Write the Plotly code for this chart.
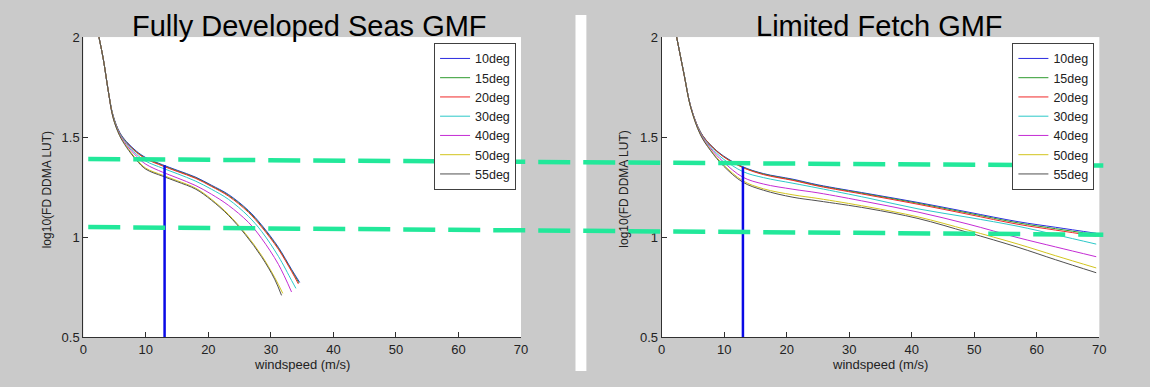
import plotly.graph_objects as go

# ---------------- data ----------------
series_names = ["10deg", "15deg", "20deg", "30deg", "40deg", "50deg", "55deg"]
series_colors = ["#2B2BE0", "#2E9A2E", "#F02828", "#2CC8C8", "#C42CD4", "#D2C41E", "#505050"]

# Fully Developed Seas GMF (left)
fd_x_10 = [2.5, 3.2, 4.0, 4.75, 5.8, 6.9, 8.5, 10.0, 12.7, 15.0, 18.0, 20.5, 23.2, 26.4, 28.5, 31.2, 33.3, 34.6]
fd_y_10 = [2.0, 1.89, 1.73, 1.61, 1.525, 1.478, 1.43, 1.398, 1.362, 1.335, 1.30, 1.26, 1.214, 1.134, 1.062, 0.95, 0.84, 0.775]
fd_x_15 = [2.5, 3.2, 4.0, 4.75, 5.8, 6.9, 8.5, 10.0, 12.7, 15.0, 18.0, 20.5, 23.2, 26.4, 28.5, 31.2, 33.3, 34.5]
fd_y_15 = [2.0, 1.89, 1.73, 1.608, 1.523, 1.475, 1.427, 1.395, 1.359, 1.332, 1.297, 1.257, 1.21, 1.13, 1.057, 0.945, 0.835, 0.772]
fd_x_20 = [2.5, 3.2, 4.0, 4.75, 5.8, 6.9, 8.5, 10.0, 12.7, 15.0, 18.0, 20.5, 23.2, 26.4, 28.5, 31.2, 33.3, 34.4]
fd_y_20 = [2.0, 1.89, 1.73, 1.607, 1.522, 1.473, 1.424, 1.392, 1.356, 1.329, 1.294, 1.254, 1.206, 1.125, 1.052, 0.94, 0.83, 0.767]
fd_x_30 = [2.5, 3.2, 4.0, 4.75, 5.8, 6.9, 8.5, 10.0, 12.7, 15.0, 18.0, 20.5, 23.2, 26.4, 28.5, 31.2, 33.3, 34.0]
fd_y_30 = [2.0, 1.89, 1.73, 1.605, 1.52, 1.47, 1.415, 1.38, 1.345, 1.318, 1.28, 1.24, 1.19, 1.105, 1.03, 0.905, 0.785, 0.745]
fd_x_40 = [2.5, 3.2, 4.0, 4.75, 5.8, 6.9, 8.5, 10.0, 12.7, 15.0, 18.0, 20.5, 23.2, 26.4, 28.5, 31.2, 33.3]
fd_y_40 = [2.0, 1.89, 1.73, 1.60, 1.515, 1.462, 1.405, 1.365, 1.325, 1.297, 1.258, 1.215, 1.16, 1.075, 0.995, 0.865, 0.727]
fd_x_50 = [2.5, 3.2, 4.0, 4.75, 5.8, 6.9, 8.5, 10.0, 12.7, 15.0, 18.0, 20.5, 23.2, 25.9, 28.5, 30.6, 31.9]
fd_y_50 = [2.0, 1.89, 1.73, 1.60, 1.51, 1.455, 1.39, 1.345, 1.31, 1.283, 1.245, 1.19, 1.115, 1.02, 0.91, 0.80, 0.72]
fd_x_55 = [2.5, 3.2, 4.0, 4.75, 5.8, 6.9, 8.5, 10.0, 12.7, 15.0, 18.0, 20.5, 23.2, 25.9, 28.5, 30.6, 31.7]
fd_y_55 = [2.0, 1.89, 1.73, 1.598, 1.508, 1.45, 1.385, 1.34, 1.305, 1.278, 1.24, 1.185, 1.11, 1.014, 0.903, 0.791, 0.71]

# Limited Fetch GMF (right)
lf_x = [2.4, 3.6, 4.65, 6.2, 7.8, 9.9, 13.0, 16.3, 21.0, 25.0, 33.0, 41.0, 49.0, 57.0, 63.0, 69.5]
lf_y_10 = [2.0, 1.813, 1.653, 1.526, 1.462, 1.406, 1.352, 1.318, 1.29, 1.262, 1.218, 1.174, 1.126, 1.078, 1.05, 1.02]
lf_y_15 = [2.0, 1.813, 1.653, 1.526, 1.461, 1.404, 1.350, 1.316, 1.287, 1.259, 1.215, 1.17, 1.121, 1.072, 1.043, 1.013]
lf_y_20 = [2.0, 1.813, 1.653, 1.525, 1.46, 1.402, 1.348, 1.313, 1.284, 1.256, 1.211, 1.165, 1.115, 1.065, 1.036, 1.006]
lf_y_30 = [2.0, 1.813, 1.652, 1.522, 1.452, 1.39, 1.328, 1.298, 1.27, 1.246, 1.196, 1.142, 1.10, 1.055, 1.013, 0.966]
lf_y_40 = [2.0, 1.81, 1.65, 1.518, 1.445, 1.376, 1.30, 1.266, 1.24, 1.222, 1.176, 1.126, 1.066, 0.998, 0.952, 0.903]
lf_y_50 = [2.0, 1.81, 1.648, 1.514, 1.438, 1.362, 1.282, 1.242, 1.212, 1.194, 1.152, 1.102, 1.036, 0.966, 0.908, 0.847]
lf_y_55 = [2.0, 1.81, 1.648, 1.512, 1.434, 1.356, 1.275, 1.235, 1.20, 1.182, 1.144, 1.094, 1.024, 0.95, 0.888, 0.823]

fd_x_series = [fd_x_10, fd_x_15, fd_x_20, fd_x_30, fd_x_40, fd_x_50, fd_x_55]
fd_y_series = [fd_y_10, fd_y_15, fd_y_20, fd_y_30, fd_y_40, fd_y_50, fd_y_55]
lf_y_series = [lf_y_10, lf_y_15, lf_y_20, lf_y_30, lf_y_40, lf_y_50, lf_y_55]

# marker windspeed line and horizontal guide levels
marker_speed = 13
marker_base = 0.5
marker_top_fd = 1.36
marker_top_lf = 1.352
guide_start_levels = [1.391, 1.051]
guide_end_levels = [1.358, 1.013]

x_ticks = [0, 10, 20, 30, 40, 50, 60, 70]
y_ticks = [0.5, 1, 1.5, 2]

# ---------------- figure ----------------
# the page keeps the browser's default 8px body margin, so the figure is
# sized to fit the 1150x387 window exactly inside it
PAGE_W, PAGE_H, OFF = 1150, 387, 8
W, H = PAGE_W - 2 * OFF, PAGE_H - 2 * OFF
FONT = "Liberation Sans, Arial, sans-serif"
GRAY = "#CACACA"
AX = "#303030"

def fx(p):
    return min(max((p - OFF) / W, 0), 1)

def fy(p):
    return min(max(1 - (p - OFF) / H, 0), 1)

fig = go.Figure()

for name, color, xs, ys in zip(series_names, series_colors, fd_x_series, fd_y_series):
    fig.add_trace(go.Scatter(x=xs, y=ys, mode="lines", name=name, line=dict(color=color, width=1, shape="spline"),
                             xaxis="x", yaxis="y", legend="legend"))
for name, color, ys in zip(series_names, series_colors, lf_y_series):
    fig.add_trace(go.Scatter(x=lf_x, y=ys, mode="lines", name=name, line=dict(color=color, width=1, shape="spline"),
                             xaxis="x2", yaxis="y2", legend="legend2"))

fig.add_trace(go.Scatter(x=[marker_speed, marker_speed], y=[marker_base, marker_top_fd], mode="lines",
                         line=dict(color="#0A0AE6", width=2.5), showlegend=False, xaxis="x", yaxis="y"))
fig.add_trace(go.Scatter(x=[marker_speed, marker_speed], y=[marker_base, marker_top_lf], mode="lines",
                         line=dict(color="#0A0AE6", width=2.5), showlegend=False, xaxis="x2", yaxis="y2"))

axis_common = dict(showgrid=False, zeroline=False, showline=True, linecolor=AX, linewidth=1,
                   ticks="inside", ticklen=5, tickcolor=AX, mirror=False,
                   tickfont=dict(family=FONT, size=13, color="#222222"))

ydom = [fy(344), fy(31)]
legend_common = dict(y=fy(37), yanchor="top", bgcolor="white", bordercolor="#404040", borderwidth=1,
                     font=dict(family=FONT, size=12.5, color="#222222"), tracegroupgap=0, itemwidth=30)
fig.update_layout(
    width=W, height=H, autosize=False,
    margin=dict(l=0, r=0, t=0, b=0),
    paper_bgcolor=GRAY, plot_bgcolor="white",
    xaxis=dict(domain=[fx(80), fx(522)], range=[0, 70], tickvals=x_ticks, anchor="y", **axis_common),
    yaxis=dict(domain=ydom, range=[0.5, 2], tickvals=y_ticks, anchor="x", **axis_common),
    xaxis2=dict(domain=[fx(664), fx(1106)], range=[0, 70], tickvals=x_ticks, anchor="y2", **axis_common),
    yaxis2=dict(domain=ydom, range=[0.5, 2], tickvals=y_ticks, anchor="x2", **axis_common),
    legend=dict(x=fx(517), xanchor="right", **legend_common),
    legend2=dict(x=fx(1101), xanchor="right", **legend_common),
    showlegend=True,
)

shapes = [
    # white gap between the two figure panels
    dict(type="rect", xref="paper", yref="paper", x0=fx(577), x1=fx(588), y0=0, y1=1,
         fillcolor="white", line=dict(width=0), layer="below"),
]
for y0, y1 in zip(guide_start_levels, guide_end_levels):
    shapes.append(dict(type="line", xref="paper", yref="y", x0=fx(85), x1=fx(1110), y0=y0, y1=y1,
                       line=dict(color="#22E89A", width=4.5, dash="32px,13px"), layer="above"))
fig.update_layout(shapes=shapes)

annotations = [
    dict(text="Fully Developed Seas GMF", x=fx(308), y=fy(19), xref="paper", yref="paper",
         showarrow=False, xanchor="center", yanchor="middle", font=dict(family=FONT, size=29, color="black")),
    dict(text="Limited Fetch GMF", x=fx(884), y=fy(19), xref="paper", yref="paper",
         showarrow=False, xanchor="center", yanchor="middle", font=dict(family=FONT, size=29, color="black")),
    dict(text="windspeed (m/s)", x=fx(301), y=fy(372), xref="paper", yref="paper",
         showarrow=False, xanchor="center", yanchor="middle", font=dict(family=FONT, size=13, color="#222222")),
    dict(text="windspeed (m/s)", x=fx(885), y=fy(372), xref="paper", yref="paper",
         showarrow=False, xanchor="center", yanchor="middle", font=dict(family=FONT, size=13, color="#222222")),
    dict(text="log10(FD DDMA LUT)", x=fx(43), y=fy(190), xref="paper", yref="paper", textangle=-90,
         showarrow=False, xanchor="center", yanchor="middle", font=dict(family=FONT, size=12, color="#222222")),
    dict(text="log10(FD DDMA LUT)", x=fx(626), y=fy(190), xref="paper", yref="paper", textangle=-90,
         showarrow=False, xanchor="center", yanchor="middle", font=dict(family=FONT, size=12, color="#222222")),
]
fig.update_layout(annotations=annotations)

page_bg = ("document.documentElement.style.background='%s';"
           "document.body.style.background='%s';") % (GRAY, GRAY)
fig.write_html("out.html", config={"displayModeBar": False}, post_script=page_bg)
